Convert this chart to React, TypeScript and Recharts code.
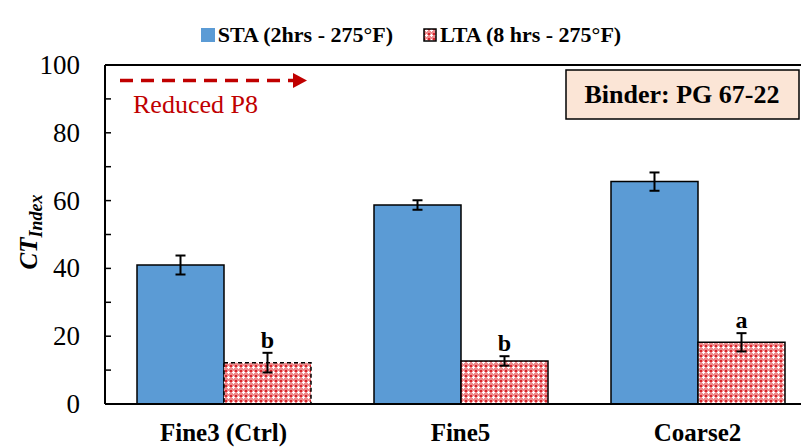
// App.tsx — CT index per gradation, short- vs long-term aging (PG 67-22).

import { Bar, BarChart, Cell, Customized, ErrorBar, LabelList, Legend, ReferenceLine, XAxis, YAxis } from "recharts";

const mixes = ["Fine3 (Ctrl)", "Fine5", "Coarse2"];
const staValues = [41.0, 58.7, 65.6];
const staErrors = [2.8, 1.4, 2.7];
const ltaValues = [12.2, 12.7, 18.2];
const ltaErrors = [2.9, 1.4, 2.7];
const ltaGroups = ["b", "b", "a"];
const yTicks = [0, 10, 20, 30, 40, 50, 60, 70, 80, 90, 100];

const data = mixes.map((mix, i) => ({
  mix,
  sta: staValues[i],
  staErr: staErrors[i],
  lta: ltaValues[i],
  ltaErr: ltaErrors[i],
  group: ltaGroups[i],
}));

const SERIF = "Liberation Serif, Times New Roman, serif";

function YTick(props: any) {
  const { x, y, payload } = props;
  const axisX = x + 25;
  return (
    <g>
      <line x1={axisX} x2={axisX + 6} y1={y} y2={y} stroke="#000" strokeWidth={1.5} />
      {payload.value % 20 === 0 && (
        <text x={x} y={y} dy={9} textAnchor="end" style={{ fontFamily: SERIF }} fontSize={27} fill="#000">
          {payload.value}
        </text>
      )}
    </g>
  );
}

function XTick(props: any) {
  const { x, y, payload } = props;
  return (
    <text x={x} y={y} dy={37} textAnchor="middle" style={{ fontFamily: SERIF }} fontWeight="bold" fontSize={25} fill="#000">
      {payload.value}
    </text>
  );
}

function GroupLabel(props: any) {
  const { x, y, width, height, value, index } = props;
  const pxPerUnit = height / ltaValues[index];
  const top = y - ltaErrors[index] * pxPerUnit;
  return (
    <text x={x + width / 2} y={top - 5} textAnchor="middle" style={{ fontFamily: SERIF }} fontWeight="bold" fontSize={24} fill="#000">
      {value}
    </text>
  );
}

function LegendBox() {
  const item = { display: "flex", alignItems: "center", gap: 3 } as const;
  return (
    <div style={{ height: 65, display: "flex", justifyContent: "center", gap: 30, paddingTop: 5, paddingLeft: 6, boxSizing: "border-box", fontFamily: SERIF, fontWeight: "bold", fontSize: 22, color: "#000" }}>
      <div style={item}>
        <svg width={14} height={14}>
          <rect x={0} y={0} width={14} height={14} fill="#5b9bd5" />
        </svg>
        <span>STA (2hrs - 275°F)</span>
      </div>
      <div style={item}>
        <svg width={14} height={14}>
          <rect x={1} y={1} width={12} height={12} fill="url(#ltaPattern)" stroke="#000" strokeWidth={1.5} />
        </svg>
        <span>LTA (8 hrs - 275°F)</span>
      </div>
    </div>
  );
}

function Annotations() {
  return (
    <g>
      <defs>
        <pattern id="ltaPattern" width={5} height={5} patternUnits="userSpaceOnUse">
          <rect width={5} height={5} fill="#ee8a8d" />
          <rect x={0} y={0} width={2} height={2} fill="#d9262c" />
          <rect x={3} y={1} width={1} height={3} fill="#fff" />
          <rect x={2} y={2} width={3} height={1} fill="#fff" />
        </pattern>
      </defs>
      <line x1={120} x2={293} y1={80.5} y2={80.5} stroke="#c00000" strokeWidth={3.5} strokeDasharray="13 8" />
      <polygon points="293,73 307,80.5 293,88" fill="#c00000" />
      <text x={133} y={113} style={{ fontFamily: SERIF }} fontSize={26} fill="#c00000">Reduced P8</text>
      <rect x={566} y={70} width={233} height={49} fill="#fbe5d6" stroke="#000" strokeWidth={1.5} />
      <text x={682} y={103} textAnchor="middle" style={{ fontFamily: SERIF }} fontWeight="bold" fontSize={26} fill="#000">
        Binder: PG 67-22
      </text>
    </g>
  );
}

export default function App() {
  return (
    <div style={{ position: "absolute", left: 0, top: 0, width: 801, height: 447, overflow: "hidden", background: "#fff", fontFamily: SERIF }}>
      <BarChart width={820} height={447} data={data} margin={{ top: 0, right: 4, bottom: 0, left: 0 }} barCategoryGap={32} barGap={0}>
        <Legend verticalAlign="top" content={() => <LegendBox />} />
        <XAxis dataKey="mix" height={43} tickLine={false} tickSize={0} tickMargin={0} axisLine={{ stroke: "#000", strokeWidth: 2 }} tick={<XTick />} />
        <YAxis
          width={105}
          domain={[0, 100]}
          ticks={yTicks}
          interval={0}
          tickLine={false}
          tickSize={0}
          tickMargin={25}
          axisLine={{ stroke: "#000", strokeWidth: 2 }}
          tick={<YTick />}
          label={{
            content: () => (
              <text transform="rotate(-90, 37, 232)" x={37} y={232} textAnchor="middle" style={{ fontFamily: SERIF }} fontWeight="bold" fontStyle="italic" fill="#000">
                <tspan fontSize={25}>CT</tspan>
                <tspan fontSize={18} dy={5}>Index</tspan>
              </text>
            ),
          }}
        />
        <ReferenceLine y={100} stroke="#000" strokeWidth={2} />
        <Bar dataKey="sta" fill="#5b9bd5" stroke="#000" strokeWidth={1.5} isAnimationActive={false}>
          <ErrorBar dataKey="staErr" width={5} stroke="#000" strokeWidth={2} />
        </Bar>
        <Bar dataKey="lta" fill="url(#ltaPattern)" stroke="#000" strokeWidth={1.5} isAnimationActive={false}>
          {data.map((d, i) => (
            <Cell key={d.mix} strokeDasharray={i === 0 ? "4 3" : undefined} />
          ))}
          <ErrorBar dataKey="ltaErr" width={5} stroke="#000" strokeWidth={2} />
          <LabelList dataKey="group" content={GroupLabel} />
        </Bar>
        <Customized component={Annotations} />
      </BarChart>
    </div>
  );
}
